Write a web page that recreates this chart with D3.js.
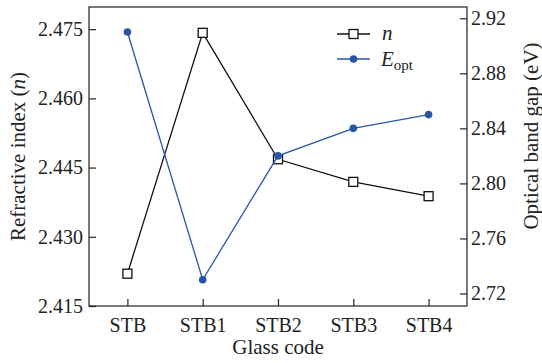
<!DOCTYPE html>
<html>
<head>
<meta charset="utf-8">
<script src="https://cdn.jsdelivr.net/npm/d3@7"></script>
<style>
    body { margin: 0; background: #fff; }
</style>
</head>
<body>
<div id="chart"></div>
<script>
var categories = ['STB', 'STB1', 'STB2', 'STB3', 'STB4'];
var nValues = [2.422, 2.4742, 2.4468, 2.4419, 2.4388];
var eValues = [2.91, 2.73, 2.82, 2.84, 2.85];
var leftTicks = [2.415, 2.430, 2.445, 2.460, 2.475];
var rightTicks = [2.72, 2.76, 2.80, 2.84, 2.88, 2.92];

var width = 542, height = 363;
var margin = {top: 7, right: 75, bottom: 57, left: 89};
var blue = '#2855a6';
var font = "'Liberation Serif'";

var svg = d3.select('#chart')
    .append('svg')
    .attr('width', width)
    .attr('height', height);

var x = d3.scalePoint()
    .domain(categories)
    .range([margin.left, width - margin.right])
    .padding(0.51);

var yLeft = d3.scaleLinear()
    .domain([2.415, 2.4798])
    .range([height - margin.bottom, margin.top]);

var yRight = d3.scaleLinear()
    .domain([2.7109, 2.9282])
    .range([height - margin.bottom, margin.top]);

var fmt3 = d3.format('.3f');
var fmt2 = d3.format('.2f');

// axes, ticks pointing inward
var xAxis = d3.axisBottom(x).tickSizeInner(-7).tickSizeOuter(0).tickPadding(12);
var leftAxis = d3.axisLeft(yLeft).tickValues(leftTicks).tickFormat(fmt3)
    .tickSizeInner(-7).tickSizeOuter(0).tickPadding(6);
var rightAxis = d3.axisRight(yRight).tickValues(rightTicks).tickFormat(fmt2)
    .tickSizeInner(-7).tickSizeOuter(0).tickPadding(4);

svg.append('rect')
    .attr('x', margin.left)
    .attr('y', margin.top)
    .attr('width', width - margin.left - margin.right)
    .attr('height', height - margin.top - margin.bottom)
    .attr('fill', 'none')
    .attr('stroke', '#222')
    .attr('stroke-width', 1.2);

var gx = svg.append('g')
    .attr('transform', 'translate(0 ' + (height - margin.bottom) + ')')
    .call(xAxis);
var gl = svg.append('g')
    .attr('transform', 'translate(' + margin.left + ' 0)')
    .call(leftAxis);
var gr = svg.append('g')
    .attr('transform', 'translate(' + (width - margin.right) + ' 0)')
    .call(rightAxis);

[gx, gl, gr].forEach(function (g) {
    g.select('.domain').remove();
    g.selectAll('.tick line').attr('stroke', '#222').attr('stroke-width', 1.2);
    g.selectAll('.tick text')
        .attr('fill', '#222')
        .style('font-family', font)
        .style('font-size', '20px');
});

// axis titles
svg.append('text')
    .attr('x', (margin.left + width - margin.right) / 2)
    .attr('y', 354)
    .attr('text-anchor', 'middle')
    .attr('fill', '#222')
    .style('font-family', font)
    .style('font-size', '21px')
    .text('Glass code');

svg.append('text')
    .attr('transform', 'translate(25 ' + ((margin.top + height - margin.bottom) / 2) + ') rotate(-90)')
    .attr('text-anchor', 'middle')
    .attr('fill', '#222')
    .style('font-family', font)
    .style('font-size', '21px')
    .html('Refractive index (<tspan font-style="italic">n</tspan>)');

svg.append('text')
    .attr('transform', 'translate(538 136) rotate(-90)')
    .attr('text-anchor', 'middle')
    .attr('fill', '#222')
    .style('font-family', font)
    .style('font-size', '21px')
    .text('Optical band gap (eV)');

// series
var nPoints = categories.map(function (c, i) { return {cat: c, v: nValues[i]}; });
var ePoints = categories.map(function (c, i) { return {cat: c, v: eValues[i]}; });

var nLine = d3.line()
    .x(function (d) { return x(d.cat); })
    .y(function (d) { return yLeft(d.v); });
var eLine = d3.line()
    .x(function (d) { return x(d.cat); })
    .y(function (d) { return yRight(d.v); });

var sq = 9;

svg.append('path')
    .datum(nPoints)
    .attr('d', nLine)
    .attr('fill', 'none')
    .attr('stroke', '#111')
    .attr('stroke-width', 1.3);

svg.selectAll('rect.n')
    .data(nPoints)
    .enter().append('rect')
    .attr('class', 'n')
    .attr('x', function (d) { return x(d.cat) - sq / 2; })
    .attr('y', function (d) { return yLeft(d.v) - sq / 2; })
    .attr('width', sq)
    .attr('height', sq)
    .attr('fill', '#fff')
    .attr('stroke', '#111')
    .attr('stroke-width', 1.3);

svg.append('path')
    .datum(ePoints)
    .attr('d', eLine)
    .attr('fill', 'none')
    .attr('stroke', blue)
    .attr('stroke-width', 1.3);

svg.selectAll('circle.e')
    .data(ePoints)
    .enter().append('circle')
    .attr('class', 'e')
    .attr('cx', function (d) { return x(d.cat); })
    .attr('cy', function (d) { return yRight(d.v); })
    .attr('r', 3.8)
    .attr('fill', blue);

// legend
var legend = svg.append('g');
legend.append('line')
    .attr('x1', 337).attr('x2', 370).attr('y1', 34).attr('y2', 34)
    .attr('stroke', '#111').attr('stroke-width', 1.3);
legend.append('rect')
    .attr('x', 353.5 - sq / 2).attr('y', 34 - sq / 2)
    .attr('width', sq).attr('height', sq)
    .attr('fill', '#fff').attr('stroke', '#111').attr('stroke-width', 1.3);
legend.append('text')
    .attr('x', 382).attr('y', 40)
    .attr('fill', '#222')
    .style('font-family', font)
    .style('font-size', '21px')
    .style('font-style', 'italic')
    .text('n');

legend.append('line')
    .attr('x1', 337).attr('x2', 370).attr('y1', 59).attr('y2', 59)
    .attr('stroke', blue).attr('stroke-width', 1.3);
legend.append('circle')
    .attr('cx', 353.5).attr('cy', 59).attr('r', 3.8)
    .attr('fill', blue);
legend.append('text')
    .attr('x', 381).attr('y', 66)
    .attr('fill', '#222')
    .style('font-family', font)
    .style('font-size', '21px')
    .html('<tspan font-style="italic">E</tspan><tspan font-size="15px" dy="4">opt</tspan>');
</script>
</body>
</html>
